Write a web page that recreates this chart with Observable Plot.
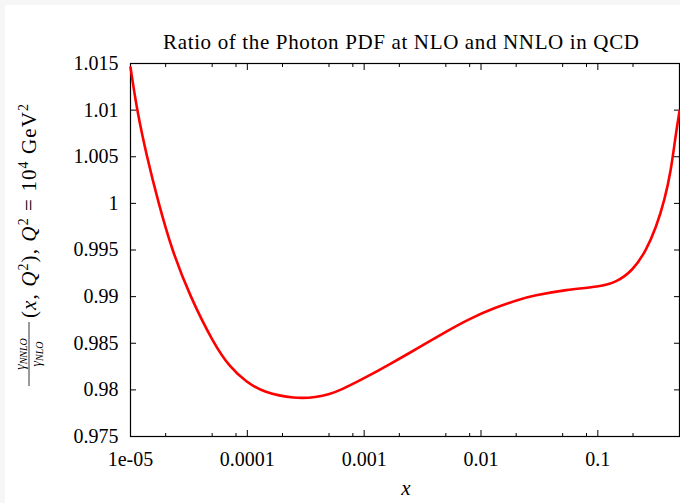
<!DOCTYPE html>
<html>
<head>
<meta charset="utf-8">
<script src="https://cdn.jsdelivr.net/npm/d3@7"></script>
<script src="https://cdn.jsdelivr.net/npm/@observablehq/plot@0.6"></script>
<style>
  html, body { margin: 0; padding: 0; background: #f6f6f6; }
  #chart { position: absolute; left: 5px; top: 5px; width: 675px; height: 498px; background: #fff; }
  svg { display: block; }
</style>
</head>
<body>
<div id="chart"></div>
<script>
// ---- data ----
const xValues = [1.0e-5, 1.135e-5, 1.38e-5, 1.74e-5, 2.26e-5, 3.24e-5, 5.13e-5, 7.11e-5, 9.89e-5,
  1.371e-4, 2.56e-4, 3.92e-4, 5.09e-4, 6.19e-4, 9.79e-4, 1.552e-3, 2.99e-3, 5.06e-3, 8.0e-3,
  1.268e-2, 2.14e-2, 2.78e-2, 5.37e-2, 0.1035, 0.1435, 0.199, 0.259, 0.3155, 0.3715, 0.4227, 0.4603, 0.5];
const ratioValues = [1.0146, 1.0100, 1.0050, 1.0000, 0.9950, 0.9900, 0.9850, 0.9824, 0.9808,
  0.97975, 0.97904, 0.97921, 0.97955, 0.97993, 0.98118, 0.98254, 0.98459, 0.98628, 0.98763,
  0.98875, 0.98971, 0.99009, 0.99075, 0.99107, 0.99153, 0.99279, 0.99493, 0.99743, 1.00029, 1.0035, 1.00707, 1.0099];

const xMajorTicks = [1e-5, 1e-4, 1e-3, 1e-2, 1e-1];
const xMajorLabels = ["1e-05", "0.0001", "0.001", "0.01", "0.1"];
const xMinorTicks = [2e-5, 5e-5, 8e-5, 2e-4, 5e-4, 8e-4, 2e-3, 5e-3, 8e-3, 2e-2, 5e-2, 8e-2, 0.2];
const yTicks = [1.015, 1.01, 1.005, 1, 0.995, 0.99, 0.985, 0.98, 0.975];
const yLabels = ["1.015", "1.01", "1.005", "1", "0.995", "0.99", "0.985", "0.98", "0.975"];
const titleText = ["Ratio of the Photon PDF at NLO and NNLO in QCD"];
const xLabelText = ["x"];

const data = xValues.map((x, i) => ({x, r: ratioValues[i]}));
const serif = "'Liberation Serif', 'DejaVu Serif', serif";

const chart = Plot.plot({
  width: 675,
  height: 498,
  marginLeft: 125,
  marginRight: 1,
  marginTop: 58,
  marginBottom: 67,
  style: {fontFamily: serif, fontSize: "20px", background: "#fff", color: "#000"},
  x: {type: "log", domain: [1e-5, 0.5]},
  y: {domain: [0.975, 1.015]},
  marks: [
    // tick labels
    Plot.axisX({ticks: xMajorTicks, tickSize: 0, tickPadding: 15, fontSize: 20,
      tickFormat: d => xMajorLabels[xMajorTicks.indexOf(d)], label: null}),
    Plot.axisY({ticks: yTicks, tickSize: 0, tickPadding: 12, fontSize: 20,
      tickFormat: d => yLabels[yTicks.indexOf(d)], label: null}),
    // inward ticks, mirrored on all sides
    Plot.axisX({anchor: "bottom", ticks: xMajorTicks, tickSize: -6, fill: "none", label: null}),
    Plot.axisX({anchor: "top", ticks: xMajorTicks, tickSize: -6, fill: "none", label: null}),
    Plot.axisX({anchor: "bottom", ticks: xMinorTicks, tickSize: -3, fill: "none", label: null}),
    Plot.axisX({anchor: "top", ticks: xMinorTicks, tickSize: -3, fill: "none", label: null}),
    Plot.axisY({anchor: "left", ticks: yTicks, tickSize: -6, fill: "none", label: null}),
    Plot.axisY({anchor: "right", ticks: yTicks, tickSize: -6, fill: "none", label: null}),
    Plot.frame({stroke: "#000", strokeWidth: 1.2}),
    Plot.line(data, {x: "x", y: "r", stroke: "#ff0000", strokeWidth: 2.6, curve: "basis"}),
    Plot.text(titleText, {text: d => d, frameAnchor: "top", dy: -29, dx: -4, fontSize: 21, className: "chart-title"}),
    Plot.text(xLabelText, {text: d => d, frameAnchor: "bottom", dy: 58, dx: 1, fontSize: 21, fontStyle: "italic"})
  ]
});
document.getElementById("chart").appendChild(chart);

const svg = d3.select(chart);
// stretch title to the reference's width (Computer Modern is wider than Times)
svg.selectAll(".chart-title text").attr("textLength", 476).attr("lengthAdjust", "spacing");

// y-axis label: (gamma_NNLO / gamma_NLO)(x, Q^2), Q^2 = 10^4 GeV^2
const g = svg.append("g")
  .attr("transform", "translate(31,383) rotate(-90)")
  .attr("font-family", serif)
  .attr("text-anchor", "start")
  .attr("fill", "#000");
// fraction
const num = g.append("text").attr("x", 34).attr("y", -11).attr("text-anchor", "middle").attr("font-size", 14);
num.append("tspan").attr("font-style", "italic").text("γ");
num.append("tspan").attr("font-style", "italic").attr("font-size", 10).attr("dy", 2).text("NNLO");
g.append("line").attr("x1", 2).attr("x2", 66).attr("y1", -7).attr("y2", -7)
  .attr("stroke", "#000").attr("stroke-width", 0.8);
const den = g.append("text").attr("x", 34).attr("y", 5).attr("text-anchor", "middle").attr("font-size", 14);
den.append("tspan").attr("font-style", "italic").text("γ");
den.append("tspan").attr("font-style", "italic").attr("font-size", 10).attr("dy", 2).text("NLO");
// main text
const main = g.append("text").attr("x", 70).attr("y", 0).attr("font-size", 21).attr("text-anchor", "start")
  .attr("textLength", 214).attr("lengthAdjust", "spacing");
main.append("tspan").text("(");
main.append("tspan").attr("font-style", "italic").text("x");
main.append("tspan").text(", ");
main.append("tspan").attr("font-style", "italic").text("Q");
main.append("tspan").attr("font-size", 14).attr("dy", -8).text("2");
main.append("tspan").attr("dy", 8).text("), ");
main.append("tspan").attr("font-style", "italic").text("Q");
main.append("tspan").attr("font-size", 14).attr("dy", -8).text("2");
main.append("tspan").attr("dy", 8).text(" = 10");
main.append("tspan").attr("font-size", 14).attr("dy", -8).text("4");
main.append("tspan").attr("dy", 8).text(" GeV");
main.append("tspan").attr("font-size", 14).attr("dy", -8).text("2");
</script>
</body>
</html>
